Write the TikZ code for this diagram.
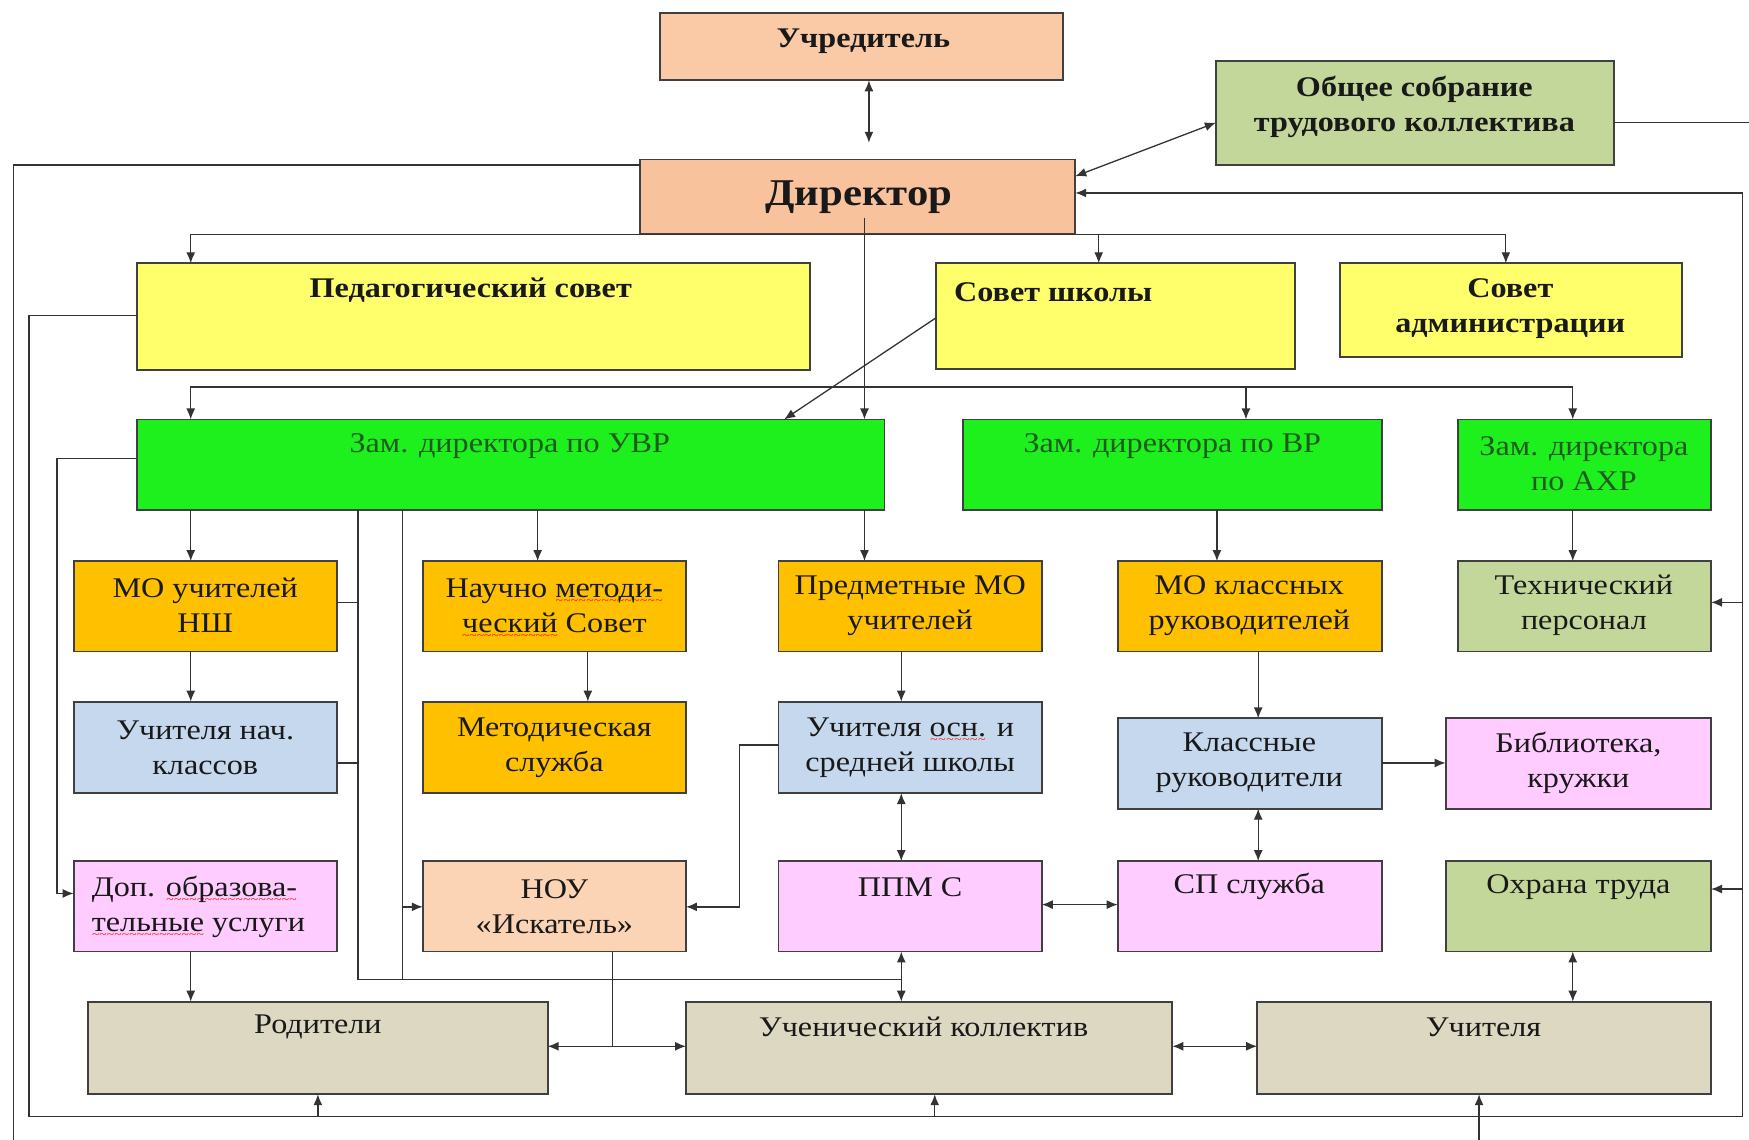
\documentclass[tikz,border=0pt]{standalone}
\usepackage{fontspec}
\setmainfont{Liberation Serif}[FakeStretch=1.13]
\usetikzlibrary{arrows.meta}

\definecolor{cpeach}{HTML}{FAC9A6}
\definecolor{cdir}{HTML}{F8C29C}
\definecolor{cnou}{HTML}{FBD4B6}
\definecolor{cyel}{HTML}{FFFF6B}
\definecolor{cgreen}{HTML}{1EF01E}
\definecolor{corange}{HTML}{FFC000}
\definecolor{cblue}{HTML}{C6D8EE}
\definecolor{colive}{HTML}{C4D79B}
\definecolor{cpink}{HTML}{FFCCFF}
\definecolor{ctan}{HTML}{DDD8C2}
\definecolor{cline}{HTML}{333333}
\definecolor{cgtext}{HTML}{1F5A1F}

% red spell-check wave under a word
\newcommand\spellwave[1]{\setbox0=\hbox{#1}%
  \rlap{\raisebox{-3.5pt}[0pt][0pt]{\color{red!85!orange}\fontsize{6}{6}\selectfont
    \hbox to \wd0{\xleaders\hbox{\char`\~}\hfill}}}#1}

% box from its corners: name, x1, y1, x2, y2, extra style
\newcommand\orgbox[6]{%
  \node[bx,#6,minimum width={(#4-#2)*0.56pt},minimum height={(#5-#3)*0.56pt}]
    (#1) at ({(#2+#4)/2},{(#3+#5)/2}) {};}

\begin{document}
\begin{tikzpicture}[x=0.56pt,y=-0.56pt,
  font=\fontsize{14.3}{17.6}\selectfont,
  bx/.style={draw=black!75,line width=0.9pt,inner sep=0pt,outer sep=0pt},
  lbl/.style={align=center,inner sep=0pt,text=black!90},
  glbl/.style={lbl,text=cgtext},
  ln/.style={draw=cline,line width=0.65pt},
  arr/.style={ln,-{Latex[length=5.5pt,width=4.5pt]}},
  dbl/.style={ln,{Latex[length=5.5pt,width=4.5pt]}-{Latex[length=5.5pt,width=4.5pt]}}]

\fill[white] (0,0) rectangle (1568,1022);
\useasboundingbox (0,0) rectangle (1568,1022);

% ---- boxes ----
\orgbox{uchr}{592}{12}{953}{72}{fill=cpeach}
\orgbox{sobr}{1090}{55}{1447}{148}{fill=colive}
\orgbox{dir}{574}{143}{964}{210}{fill=cdir}
\orgbox{ped}{123}{236}{726}{332}{fill=cyel}
\orgbox{sovsh}{839}{236}{1161}{331}{fill=cyel}
\orgbox{sovadm}{1201}{236}{1508}{320}{fill=cyel}
\orgbox{zuvr}{123}{376}{793}{457}{fill=cgreen}
\orgbox{zvr}{863}{376}{1239}{457}{fill=cgreen}
\orgbox{zahr}{1307}{376}{1534}{457}{fill=cgreen}
\orgbox{monsh}{66}{503}{302}{584}{fill=corange}
\orgbox{nms}{379}{503}{615}{584}{fill=corange}
\orgbox{pmo}{698}{503}{934}{584}{fill=corange}
\orgbox{mokr}{1002}{503}{1239}{584}{fill=corange}
\orgbox{tech}{1307}{503}{1534}{584}{fill=colive}
\orgbox{uchnach}{66}{629}{302}{711}{fill=cblue}
\orgbox{metsl}{379}{629}{615}{711}{fill=corange}
\orgbox{uchosn}{698}{629}{934}{711}{fill=cblue}
\orgbox{klruk}{1002}{644}{1239}{725}{fill=cblue}
\orgbox{bibl}{1296}{644}{1534}{725}{fill=cpink}
\orgbox{dop}{66}{772}{302}{853}{fill=cpink}
\orgbox{nou}{379}{772}{615}{853}{fill=cnou}
\orgbox{ppms}{698}{772}{934}{853}{fill=cpink}
\orgbox{sp}{1002}{772}{1239}{853}{fill=cpink}
\orgbox{ohr}{1296}{772}{1534}{853}{fill=colive}
\orgbox{rod}{79}{898}{491}{981}{fill=ctan}
\orgbox{uchkol}{615}{898}{1051}{981}{fill=ctan}
\orgbox{uchit}{1127}{898}{1534}{981}{fill=ctan}

% ---- texts ----
\node[lbl] (uchr-t) at (774,37) {\bfseries Учредитель};
\node[lbl] (sobr-t) at (1268,96) {\bfseries Общее собрание\\\bfseries трудового коллектива};
\node[lbl,font=\fontsize{19}{23}\selectfont\bfseries] (dir-t) at (770,177) {Директор};
\node[lbl] (ped-t) at (422,260) {\bfseries Педагогический совет};
\node[lbl,anchor=west] (sovsh-t) at (855,262) {\bfseries Совет школы};
\node[lbl] (sovadm-t) at (1354,277) {\bfseries Совет\\\bfseries администрации};
\node[glbl] (zuvr-t) at (457,400) {Зам. директора по УВР};
\node[glbl] (zvr-t) at (1051,400) {Зам. директора по ВР};
\node[glbl] (zahr-t) at (1420,416) {Зам. директора\\по АХР};
\node[lbl] (monsh-t) at (184,543) {МО учителей\\НШ};
\node[lbl] (nms-t) at (497,543) {Научно \spellwave{методи-}\\\spellwave{ческий} Совет};
\node[lbl] (pmo-t) at (816,543) {Предметные МО\\учителей};
\node[lbl] (mokr-t) at (1120,543) {МО классных\\руководителей};
\node[lbl] (tech-t) at (1420,543) {Технический\\персонал};
\node[lbl] (uchnach-t) at (184,670) {Учителя нач.\\классов};
\node[lbl] (metsl-t) at (497,670) {Методическая\\служба};
\node[lbl] (uchosn-t) at (816,670) {Учителя \spellwave{осн.} и\\средней школы};
\node[lbl] (klruk-t) at (1120,684) {Классные\\руководители};
\node[lbl] (bibl-t) at (1415,684) {Библиотека,\\кружки};
\node[lbl,align=left,anchor=west] (dop-t) at (82,813) {Доп. \spellwave{образова-}\\\spellwave{тельные} услуги};
\node[lbl] (nou-t) at (497,813) {НОУ\\«Искатель»};
\node[lbl] (ppms-t) at (816,795) {ППМ С};
\node[lbl] (sp-t) at (1120,795) {СП служба};
\node[lbl] (ohr-t) at (1415,795) {Охрана труда};
\node[lbl] (rod-t) at (285,921) {Родители};
\node[lbl] (uchkol-t) at (828,921) {Ученический коллектив};
\node[lbl] (uchit-t) at (1330,921) {Учителя};

% ---- free ends and bends ----
\coordinate (dirdrop) at (775,195);
\coordinate (edgeL) at (12,1022);
\coordinate (edgeR) at (1568,110);
\coordinate (edgeB) at (1326,1022);

% ---- top level ----
\draw[dbl,shorten >=8.4pt] (uchr.south -| 779,0) -- (dir.north -| 779,0);
\draw[dbl] (dir.east |- 0,158) -- (sobr.west |- 0,110);
\draw[ln] (sobr.east |- 0,110) -- (edgeR);
\draw[ln] (dir.west |- 0,148) -- (12,148) -- (edgeL);

\draw[arr] (dir.south) -| (ped.north -| 171,0);
\draw[arr] (dir.south) -| (sovsh.north -| 985,0);
\draw[arr] (dir.south) -| (sovadm.north -| 1350,0);

\draw[arr] (dirdrop) -- (zuvr.north -| dirdrop);
\draw[arr] (dirdrop |- 0,347) -| (zuvr.north -| 171,0);
\draw[arr] (dirdrop |- 0,347) -| (zvr.north -| 1117,0);
\draw[arr] (dirdrop |- 0,347) -| (zahr.north -| 1410,0);
\draw[arr] (sovsh.west |- 0,285) -- (zuvr.north -| 703,0);

% ---- outer loop ----
\draw[arr] (ped.west |- 0,283) -- (26,283) -- (26,1001) -- (1562,1001)
  -- (1562,173) -- (dir.east |- 0,173);
\draw[arr] (1562,540) -- (tech.east |- 0,540);
\draw[arr] (1562,797) -- (ohr.east |- 0,797);
\draw[arr] (285,1001) -- (rod.south -| 285,0);
\draw[arr] (838,1001) -- (uchkol.south -| 838,0);
\draw[arr] (edgeB) -- (uchit.south -| edgeB);

% ---- deputy for teaching ----
\draw[arr] (zuvr.south -| 171,0) -- (monsh.north -| 171,0);
\draw[arr] (zuvr.south -| 482,0) -- (nms.north -| 482,0);
\draw[arr] (zuvr.south -| 775,0) -- (pmo.north -| 775,0);
\draw[ln] (zuvr.south -| 321,0) -- (321,878) -- (808,878);
\draw[ln] (zuvr.south -| 361,0) -- (361,878);
\draw[ln] (monsh.east |- 0,540) -- (321,540);
\draw[ln] (uchnach.east |- 0,684) -- (321,684);
\draw[arr] (361,813) -- (nou.west |- 0,813);
\draw[arr] (zuvr.west |- 0,411) -- (51,411) -- (51,801) -- (dop.west |- 0,801);
\draw[arr] (monsh.south -| 171,0) -- (uchnach.north -| 171,0);
\draw[arr] (nms.south -| 527,0) -- (metsl.north -| 527,0);
\draw[arr] (pmo.south -| 808,0) -- (uchosn.north -| 808,0);
\draw[arr] (uchosn.west |- 0,668) -- (663,668) -- (663,813) -- (nou.east |- 0,813);
\draw[arr] (dop.south -| 171,0) -- (rod.north -| 171,0);
\draw[ln] (nou.south -| 549,0) -- (549,938);
\draw[arr] (549,938) -- (rod.east |- 0,938);
\draw[arr] (549,938) -- (uchkol.west |- 0,938);
\draw[dbl] (uchosn.south -| 808,0) -- (ppms.north -| 808,0);
\draw[dbl] (ppms.south -| 808,0) -- (uchkol.north -| 808,0);
\draw[dbl] (ppms.east |- 0,811) -- (sp.west |- 0,811);

% ---- deputy for upbringing ----
\draw[arr] (zvr.south -| 1091,0) -- (mokr.north -| 1091,0);
\draw[arr] (mokr.south -| 1128,0) -- (klruk.north -| 1128,0);
\draw[arr] (klruk.east |- 0,684) -- (bibl.west |- 0,684);
\draw[dbl] (klruk.south -| 1128,0) -- (sp.north -| 1128,0);

% ---- deputy for maintenance ----
\draw[arr] (zahr.south -| 1410,0) -- (tech.north -| 1410,0);
\draw[dbl] (ohr.south -| 1410,0) -- (uchit.north -| 1410,0);
\draw[dbl] (uchkol.east |- 0,938) -- (uchit.west |- 0,938);
\end{tikzpicture}
\end{document}
